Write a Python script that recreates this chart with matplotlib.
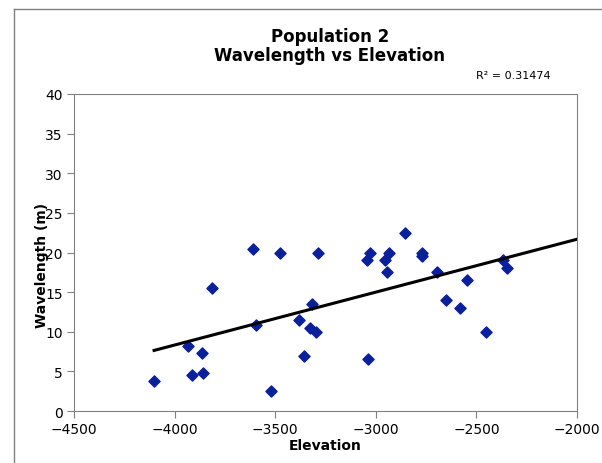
import matplotlib.pyplot as plt
from matplotlib.lines import Line2D
import numpy as np

# Elevation vs wavelength data
elevation = [-4102, -3935, -3862, -3915, -3860, -3812, -3610, -3595, -3522, -3476,
             -3289, -3317, -3380, -3325, -3297, -3357,
             -2853, -3029, -3042, -2936, -2956, -2943, -2770, -2770, -3040,
             -2694, -2548, -2369, -2346, -2651, -2582, -2452]
wavelength = [3.75, 8.2, 7.3, 4.5, 4.8, 15.5, 20.5, 10.8, 2.5, 20.0,
              20.0, 13.5, 11.5, 10.5, 10.0, 7.0,
              22.5, 20.0, 19.0, 20.0, 19.0, 17.5, 20.0, 19.5, 6.5,
              17.5, 16.5, 19.0, 18.0, 14.0, 13.0, 10.0]
r2_text = 'R² = 0.31474'

W, H = 602, 464
fig = plt.figure(figsize=(W / 100, H / 100), dpi=100)
ax = fig.add_axes([74 / W, 1 - 412 / H, (577 - 74) / W, (412 - 95) / H])

ax.scatter(elevation, wavelength, marker='D', s=32, color='#0a1f9c', zorder=3)

# linear trend line, extended forward to -2000
slope, icpt = np.polyfit(elevation, wavelength, 1)
xl = np.array([min(elevation), -2000])
ax.plot(xl, slope * xl + icpt, color='black', lw=2.2, zorder=4)

ax.set_xlim(-4500, -2000)
ax.set_ylim(0, 40)
ax.set_xticks(np.arange(-4500, -1999, 500))
ax.set_yticks(np.arange(0, 41, 5))
ax.tick_params(direction='out', length=5, color='#808080', labelsize=10, pad=3)
for sp in ax.spines.values():
    sp.set_color('#808080')

ax.set_xlabel('Elevation', fontsize=10, fontweight='bold', labelpad=1)
# the y label sits over the tick labels, as in the original chart
fig.text(42 / W, 1 - 265 / H, 'Wavelength (m)', rotation=90, ha='center', va='center',
         fontsize=10, fontweight='bold')

fig.text(330 / W, 1 - 37 / H, 'Population 2', ha='center', va='center',
         fontsize=12, fontweight='bold')
fig.text(330 / W, 1 - 56 / H, 'Wavelength vs Elevation', ha='center', va='center',
         fontsize=12, fontweight='bold')
fig.text(513 / W, 1 - 76 / H, r2_text, ha='center', va='center', fontsize=8)

# outer chart border
fig.add_artist(Line2D([14 / W, 14 / W], [0, 1 - 10 / H], color='#808080', lw=1,
                      transform=fig.transFigure))
fig.add_artist(Line2D([14 / W, 1], [1 - 10 / H, 1 - 10 / H], color='#808080', lw=1,
                      transform=fig.transFigure))

fig.savefig('out.png', dpi=100)
